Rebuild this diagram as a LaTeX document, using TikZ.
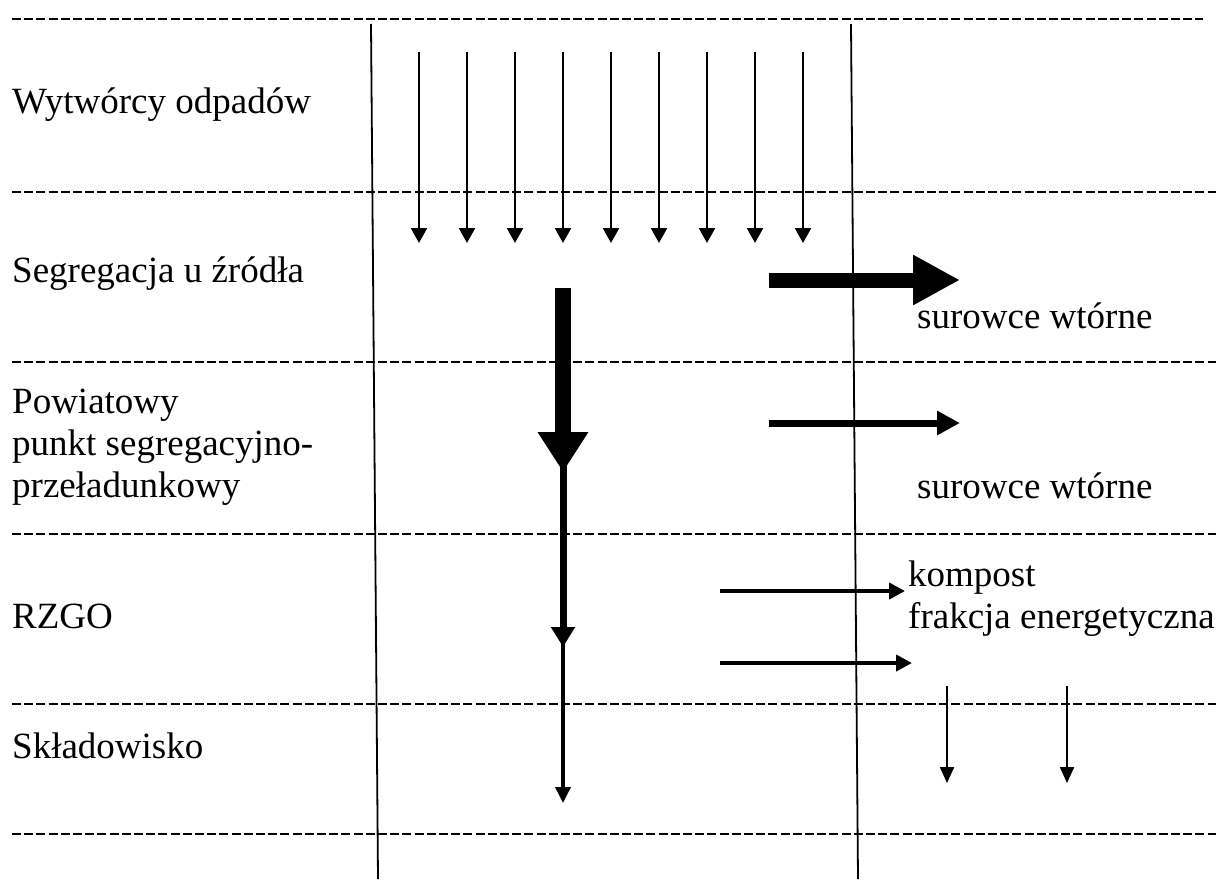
\documentclass[tikz,border=0pt]{standalone}
\usepackage{fontspec}
\setmainfont{Liberation Serif}
\usetikzlibrary{arrows.meta}
\begin{document}
\begin{tikzpicture}[x=1pt,y=-1pt,
  sepline/.style={line width=2.7pt, dash pattern=on 9pt off 3.2pt},
  colline/.style={line width=1.8pt},
  label/.style={anchor=base west, inner sep=0pt, align=left, font=\fontsize{37}{42}\selectfont},
  smallarrow/.style={line width=2.2pt, -{Triangle[length=15pt,width=16pt]}},
  bigdown/.style={line width=16pt, -{Triangle[length=40pt,width=48pt]}},
  middown/.style={line width=7pt, -{Triangle[length=20pt,width=23pt]}},
  thindown/.style={line width=3.5pt, -{Triangle[length=16pt,width=15pt]}},
  bigright/.style={line width=15pt, -{Triangle[length=47pt,width=47pt]}},
  midright/.style={line width=7pt, -{Triangle[length=23pt,width=23pt]}},
  rzgoarrow/.style={line width=4pt, -{Triangle[length=16pt,width=16pt]}},
  outarrow/.style={line width=2.2pt, -{Triangle[length=16pt,width=14pt]}}
]
\useasboundingbox (0,0) rectangle (1221,879);

% separator lines
\coordinate (s1l) at (12,19);  \coordinate (s1r) at (1203,19);
\coordinate (s2l) at (12,192); \coordinate (s2r) at (1216,192);
\coordinate (s3l) at (12,362); \coordinate (s3r) at (1216,362);
\coordinate (s4l) at (12,534); \coordinate (s4r) at (1216,534);
\coordinate (s5l) at (12,704); \coordinate (s5r) at (1216,704);
\coordinate (s6l) at (12,834); \coordinate (s6r) at (1216,834);
\foreach \i in {1,...,6} {\draw[sepline] (s\i l) -- (s\i r);}

% column lines
\coordinate (c1t) at (371,24); \coordinate (c1b) at (378,879);
\coordinate (c2t) at (851,24); \coordinate (c2b) at (858,879);
\draw[colline] (c1t) -- (c1b);
\draw[colline] (c2t) -- (c2b);

% labels (multi-line nodes are placed by the baseline of their last line)
\node[label] (wyt) at (12,113) {Wytwórcy odpadów};
\node[label] (seg) at (12,282) {Segregacja u źródła};
\node[label] (pow) at (12,497) {Powiatowy\\punkt segregacyjno-\\przeładunkowy};
\node[label] (rzgo) at (12,628) {RZGO};
\node[label] (skl) at (12,758) {Składowisko};
\node[label] (sur1) at (917,328) {surowce wtórne};
\node[label] (sur2) at (917,498) {surowce wtórne};
\node[label] (komp) at (908,628) {kompost\\frakcja energetyczna};

% nine small arrows from the producers
\foreach \i [evaluate=\i as \xx using 419+48*(\i-1)] in {1,...,9} {
  \coordinate (a\i s) at (\xx,52);
  \coordinate (a\i e) at (\xx,243);
  \draw[smallarrow] (a\i s) -- (a\i e);
}

% main flow down
\coordinate (m1) at (563,288);
\coordinate (m2) at (563,472);
\coordinate (m3) at (563,647);
\coordinate (m4) at (563,803);
\draw[bigdown] (m1) -- (m2);
\draw[middown] ([yshift=12pt]m2) -- (m3);
\draw[thindown] ([yshift=8pt]m3) -- (m4);

% outputs to the right
\coordinate (r1s) at (769,280); \coordinate (r1e) at (960,280);
\coordinate (r2s) at (769,423); \coordinate (r2e) at (960,423);
\coordinate (r3s) at (720,591); \coordinate (r3e) at (905,591);
\coordinate (r4s) at (720,663); \coordinate (r4e) at (912,663);
\draw[bigright] (r1s) -- (r1e);
\draw[midright] (r2s) -- (r2e);
\draw[rzgoarrow] (r3s) -- (r3e);
\draw[rzgoarrow] (r4s) -- (r4e);

% outputs down to landfill
\coordinate (d1s) at (947,686); \coordinate (d1e) at (947,783);
\coordinate (d2s) at (1067,686); \coordinate (d2e) at (1067,783);
\draw[outarrow] (d1s) -- (d1e);
\draw[outarrow] (d2s) -- (d2e);
\end{tikzpicture}
\end{document}
